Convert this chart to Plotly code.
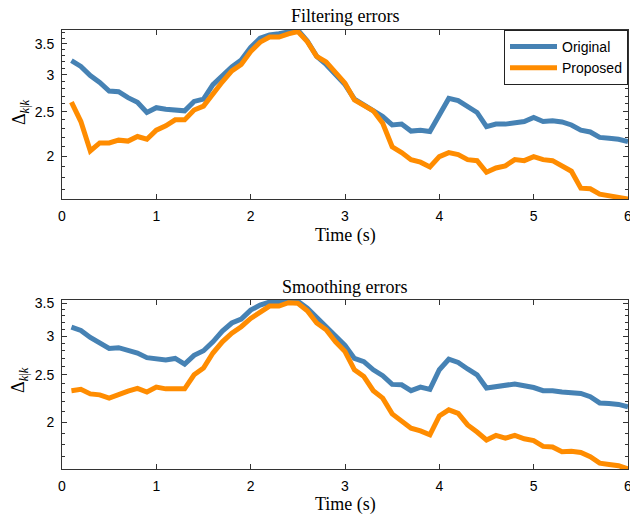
import math
import plotly.graph_objects as go
from plotly.subplots import make_subplots

time_s = [round(0.1 * i, 1) for i in range(1, 61)]

filter_original = [3.22, 3.13, 2.99, 2.89, 2.77, 2.76, 2.68, 2.62, 2.49, 2.55,
                   2.53, 2.525, 2.51, 2.63, 2.66, 2.86, 2.99, 3.12, 3.23, 3.44,
                   3.60, 3.66, 3.68, 3.72, 3.75, 3.55, 3.29, 3.16, 3.00, 2.86,
                   2.66, 2.59, 2.52, 2.44, 2.34, 2.35, 2.27, 2.28, 2.265, 2.47,
                   2.67, 2.64, 2.56, 2.49, 2.32, 2.35, 2.35, 2.37, 2.38, 2.43,
                   2.38, 2.39, 2.375, 2.34, 2.28, 2.26, 2.20, 2.19, 2.18, 2.155]
filter_proposed = [2.62, 2.38, 2.057, 2.14, 2.14, 2.17, 2.16, 2.21, 2.18, 2.28,
                   2.33, 2.40, 2.40, 2.52, 2.57, 2.74, 2.90, 3.06, 3.16, 3.37,
                   3.53, 3.62, 3.62, 3.68, 3.72, 3.54, 3.29, 3.20, 3.03, 2.88,
                   2.65, 2.58, 2.51, 2.36, 2.10, 2.04, 1.97, 1.945, 1.90, 2.00,
                   2.04, 2.02, 1.97, 1.96, 1.85, 1.89, 1.91, 1.97, 1.96, 2.00,
                   1.97, 1.96, 1.91, 1.86, 1.71, 1.705, 1.66, 1.65, 1.64, 1.62]
smooth_original = [3.13, 3.08, 2.98, 2.91, 2.83, 2.84, 2.80, 2.77, 2.71, 2.70,
                   2.68, 2.70, 2.63, 2.74, 2.80, 2.92, 3.07, 3.19, 3.25, 3.39,
                   3.47, 3.52, 3.515, 3.555, 3.535, 3.42, 3.27, 3.15, 3.00, 2.87,
                   2.70, 2.66, 2.56, 2.49, 2.39, 2.385, 2.32, 2.36, 2.335, 2.56,
                   2.69, 2.65, 2.57, 2.50, 2.35, 2.365, 2.37, 2.395, 2.375, 2.355,
                   2.32, 2.32, 2.305, 2.30, 2.29, 2.255, 2.19, 2.185, 2.175, 2.15]
smooth_proposed = [2.32, 2.335, 2.285, 2.275, 2.24, 2.28, 2.315, 2.345, 2.305, 2.36,
                   2.34, 2.34, 2.34, 2.50, 2.58, 2.77, 2.92, 3.04, 3.135, 3.26,
                   3.36, 3.455, 3.455, 3.51, 3.50, 3.38, 3.19, 3.09, 2.92, 2.79,
                   2.56, 2.48, 2.32, 2.24, 2.08, 2.015, 1.945, 1.92, 1.885, 2.06,
                   2.12, 2.085, 1.975, 1.91, 1.84, 1.88, 1.855, 1.88, 1.85, 1.835,
                   1.785, 1.78, 1.74, 1.745, 1.735, 1.70, 1.65, 1.64, 1.63, 1.605]

x_ticks = [0, 1, 2, 3, 4, 5, 6]
y_ticks = [2, 2.5, 3, 3.5]
y_tick_text = ["2", "2.5", "3", "3.5"]
y_minor = [1.7, 1.8, 1.9, 2.1, 2.2, 2.3, 2.4, 2.6, 2.7, 2.8, 2.9, 3.1, 3.2, 3.3, 3.4, 3.6, 3.7]

BLUE = "#4682B4"
ORANGE = "#FF8C00"
AXC = "#333333"
SANS = "Liberation Sans, Arial, sans-serif"
SERIF = "Liberation Serif, Times New Roman, serif"

fig = make_subplots(rows=2, cols=1, vertical_spacing=0.23)

for row, (orig, prop) in enumerate([(filter_original, filter_proposed),
                                     (smooth_original, smooth_proposed)], start=1):
    fig.add_trace(go.Scatter(x=time_s, y=orig, mode="lines", name="Original",
                             line=dict(color=BLUE, width=5), showlegend=(row == 1)),
                  row=row, col=1)
    fig.add_trace(go.Scatter(x=time_s, y=prop, mode="lines", name="Proposed",
                             line=dict(color=ORANGE, width=5), showlegend=(row == 1)),
                  row=row, col=1)
    lo = min(min(orig), min(prop))
    hi = max(max(orig), max(prop))
    fig.update_yaxes(type="log", range=[math.log10(lo), math.log10(hi)],
                     tickmode="array", tickvals=y_ticks, ticktext=y_tick_text,
                     ticks="inside", ticklen=5, tickcolor=AXC, tickwidth=1,
                     minor=dict(ticks="inside", ticklen=3, tickvals=y_minor,
                                tickcolor=AXC, tickwidth=1, showgrid=False),
                     showline=True, linecolor=AXC, linewidth=1, mirror="ticks",
                     showgrid=False, zeroline=False, automargin=False,
                     tickfont=dict(family=SANS, size=14, color="black"),
                     ticklabelstandoff=4, ticklabeloverflow="allow",
                     row=row, col=1)
    fig.update_xaxes(range=[0, 6], tickmode="array", tickvals=x_ticks,
                     ticks="inside", ticklen=5, tickcolor=AXC, tickwidth=1,
                     showline=True, linecolor=AXC, linewidth=1, mirror="ticks",
                     showgrid=False, zeroline=False, automargin=False,
                     tickfont=dict(family=SANS, size=14, color="black"),
                     ticklabelstandoff=4, ticklabeloverflow="allow",
                     row=row, col=1)

fig.update_layout(yaxis=dict(domain=[0.615, 1.0]), yaxis2=dict(domain=[0.0, 0.385]))

ann = []
for txt, y in [("Filtering errors", 1.032), ("Smoothing errors", 0.4157)]:
    ann.append(dict(text=txt, x=0.5, y=y, xref="paper", yref="paper", showarrow=False,
                    xanchor="center", yanchor="middle",
                    font=dict(family=SERIF, size=18, color="black")))
for y in [0.533, -0.082]:
    ann.append(dict(text="Time (s)", x=0.5, y=y, xref="paper", yref="paper", showarrow=False,
                    xanchor="center", yanchor="middle",
                    font=dict(family=SERIF, size=18, color="black")))
for y in [0.813, 0.203]:
    ann.append(dict(text="Δ<sub><i>k</i>|<i>k</i></sub>", x=-0.0742, y=y, xref="paper",
                    yref="paper", showarrow=False, textangle=-90,
                    xanchor="center", yanchor="middle",
                    font=dict(family=SERIF, size=18, color="black")))

fig.update_layout(
    width=630, height=516,
    margin=dict(l=62, r=2, t=30, b=47),
    paper_bgcolor="white", plot_bgcolor="white",
    annotations=ann,
    legend=dict(x=1, y=1, xref="paper", yref="paper", xanchor="right", yanchor="top",
                bgcolor="white", bordercolor="#222222", borderwidth=1,
                font=dict(family=SANS, size=14, color="black"),
                itemwidth=47, tracegroupgap=0),
)

fig.write_html("out.html")
